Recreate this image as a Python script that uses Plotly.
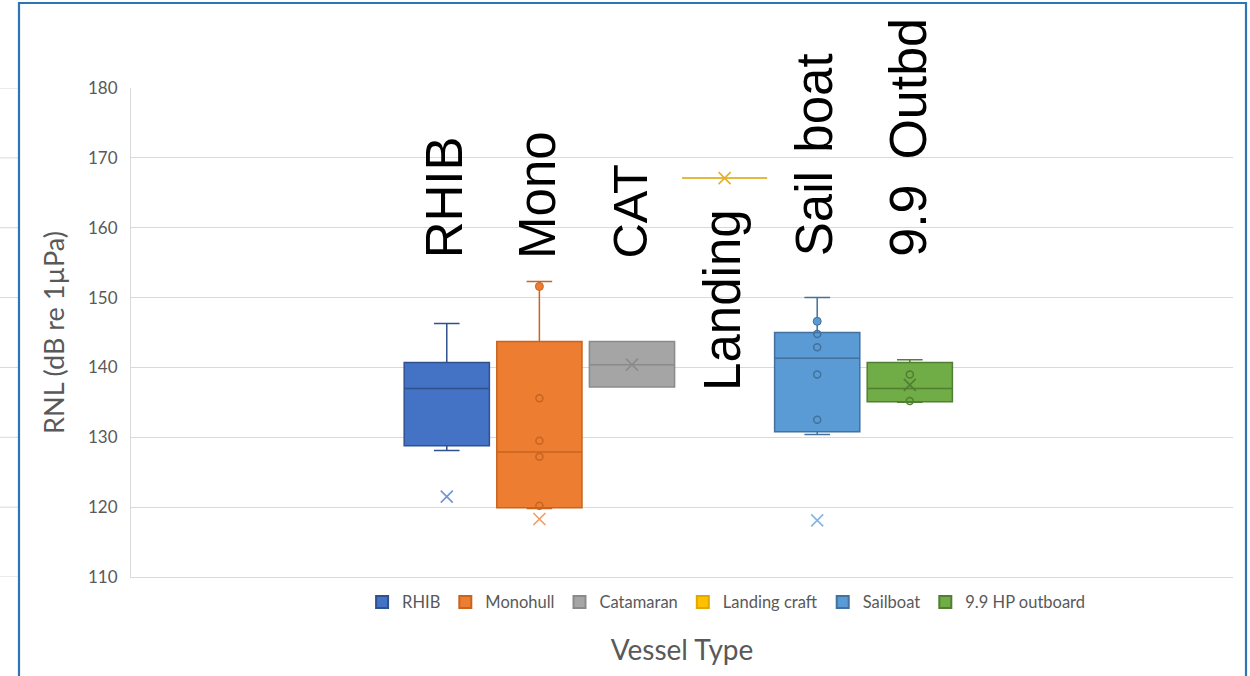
import plotly.graph_objects as go

# ---------------- data ----------------
categories = ["RHIB", "Monohull", "Catamaran", "Landing craft", "Sailboat", "9.9 HP outboard"]
q1_vals = [128.8, 119.9, 137.2, 167.1, 130.8, 135.1]
median_vals = [137.0, 127.9, 140.4, 167.1, 141.3, 137.0]
q3_vals = [140.7, 143.7, 143.7, 167.1, 145.0, 140.7]
lower_whisker = [128.1, 119.8, 137.2, 167.1, 130.4, 135.0]
upper_whisker = [146.3, 152.3, 143.7, 167.1, 150.0, 141.1]
mean_vals = [121.5, 118.3, 140.4, 167.1, 118.1, 137.5]
inner_points = [[], [135.6, 129.5, 127.2, 120.2], [], [], [144.8, 142.9, 139.0, 132.5], [139.0, 135.2]]
outer_points = [[], [151.6], [], [], [146.6], []]

label_texts = ["RHIB", "Mono", "CAT", "Landing", "Sail\u00a0\u200aboat", "9.9\u00a0\u2009Outbd"]
label_bottoms = [155.3, 155.3, 155.3, 136.3, 155.6, 155.6]

y_ticks = [110, 120, 130, 140, 150, 160, 170, 180]

# ---------------- styles ----------------
fill_colors = ["#4472C4", "#ED7D31", "#A5A5A5", "rgba(0,0,0,0)", "#5B9BD5", "#70AD47"]
line_colors = ["#2F528F", "#C8641E", "#8A8A8A", "#D9A400", "#41719C", "#507E32"]
legend_colors = ["#4472C4", "#ED7D31", "#A5A5A5", "#FFC000", "#5B9BD5", "#70AD47"]
mean_colors = ["#7393D3", "#F19B66", "#8C8C8C", "#E3B02A", "#86B4E0", "#507E32"]
label_sizes = [51, 51, 49, 51, 51, 52]

FONT = "Lato"
GREY = "#595959"

fig = go.Figure()

for i, cat in enumerate(categories):
    fig.add_trace(go.Box(
        name=cat,
        x=[cat],
        q1=[q1_vals[i]],
        median=[median_vals[i]],
        q3=[q3_vals[i]],
        lowerfence=[lower_whisker[i]],
        upperfence=[upper_whisker[i]],
        fillcolor=fill_colors[i],
        line=dict(color=line_colors[i], width=1.5),
        whiskerwidth=0.3,
        boxpoints=False,
        showlegend=False,
        hoverinfo="skip",
    ))

# legend proxies (square swatches like the reference)
for i, cat in enumerate(categories):
    fig.add_trace(go.Scatter(
        x=[None], y=[None], mode="markers", name=cat,
        marker=dict(symbol="square", size=13, color=legend_colors[i],
                    line=dict(color=line_colors[i] if i != 3 else "#E0A800", width=1)),
        showlegend=True,
    ))

for i, cat in enumerate(categories):
    if inner_points[i]:
        fig.add_trace(go.Scatter(
            x=[cat] * len(inner_points[i]), y=inner_points[i], mode="markers",
            marker=dict(symbol="circle-open", size=7, color=line_colors[i], line=dict(width=1.5)),
            showlegend=False, hoverinfo="skip",
        ))
    if outer_points[i]:
        fig.add_trace(go.Scatter(
            x=[cat] * len(outer_points[i]), y=outer_points[i], mode="markers",
            marker=dict(symbol="circle", size=8, color=fill_colors[i],
                        line=dict(width=1, color=line_colors[i])),
            showlegend=False, hoverinfo="skip",
        ))
    fig.add_trace(go.Scatter(
        x=[cat], y=[mean_vals[i]], mode="markers",
        marker=dict(symbol="x-thin-open", size=12, color=mean_colors[i],
                    line=dict(width=1.6, color=mean_colors[i])),
        showlegend=False, hoverinfo="skip",
    ))

# big rotated labels
for i, cat in enumerate(categories):
    fig.add_annotation(
        x=cat, y=label_bottoms[i], xref="x", yref="y",
        text=label_texts[i], textangle=-90, showarrow=False,
        xanchor="center", yanchor="bottom", xshift=-2,
        font=dict(family="Liberation Sans, Arial", size=label_sizes[i], color="#000000"),
    )

# gridlines of the neighbouring chart visible left of the frame
L_PX, R_PX, T_PX, B_PX, W, H = 131, 17, 88, 99, 1250, 676
plot_w = W - L_PX - R_PX
plot_h = H - T_PX - B_PX
for t in y_ticks:
    fig.add_shape(type="line", xref="paper", yref="y",
                  x0=-L_PX / plot_w, x1=(18 - L_PX) / plot_w, y0=t, y1=t,
                  line=dict(color="#D9D9D9", width=1), layer="below")

# blue chart-area frame
fig.add_shape(type="rect", xref="paper", yref="paper",
              x0=(19 - L_PX) / plot_w, x1=(1246 - L_PX) / plot_w,
              y0=-0.5, y1=(H - B_PX - 3) / plot_h,
              line=dict(color="#2E75B6", width=2.2), fillcolor="rgba(0,0,0,0)")

fig.update_layout(
    width=W, height=H,
    margin=dict(l=L_PX, r=R_PX, t=T_PX, b=B_PX),
    paper_bgcolor="white", plot_bgcolor="white",
    boxmode="overlay", boxgap=0.08, boxgroupgap=0,
    font=dict(family=FONT, color=GREY),
    showlegend=True,
    legend=dict(orientation="h", x=0.54, xanchor="center", y=-0.016, yanchor="top",
                font=dict(family=FONT, size=16.5, color=GREY),
                itemsizing="constant", itemwidth=30, tracegroupgap=0),
    xaxis=dict(type="category", categoryorder="array", categoryarray=categories,
               range=[-3.41, 8.49], showticklabels=False, showgrid=False, zeroline=False,
               showline=True, linecolor="#D9D9D9", linewidth=1, ticks="",
               title=dict(text="Vessel Type", font=dict(family=FONT, size=28, color=GREY), standoff=63)),
    yaxis=dict(range=[110, 180], tickvals=y_ticks, showgrid=True, gridcolor="#D9D9D9", gridwidth=1,
               zeroline=False, showline=True, linecolor="#D9D9D9", linewidth=1,
               tickfont=dict(family=FONT, size=17, color=GREY), ticklabelstandoff=9,
               title=dict(text="RNL (dB re 1µPa)", font=dict(family=FONT, size=27, color=GREY), standoff=15)),
)

fig.write_html("out.html", post_script="document.body.style.margin='0';",
               config={"displayModeBar": False})
